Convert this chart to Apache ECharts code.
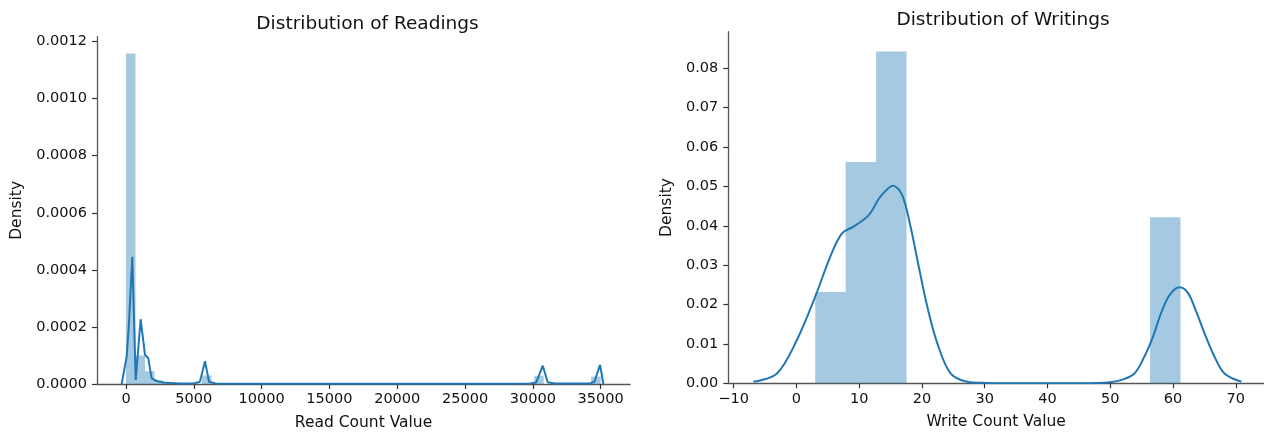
<!DOCTYPE html>
<html>
<head>
<meta charset="utf-8">
<script src="https://cdn.jsdelivr.net/npm/echarts@6/dist/echarts.min.js"></script>
<style>
  html, body { margin: 0; padding: 0; background: #fff; }
  #chart { width: 1264px; height: 433px; }
</style>
</head>
<body>
<div id="chart"></div>
<script>
// ---- Reads: histogram bins (left edge, right edge, density) ----
const readBinLeft    = [0,        700,      1400,     2100,     5600,     30100,    34300];
const readBinRight   = [700,      1400,     2100,     2800,     6300,     30800,    35000];
const readBinDensity = [0.001158, 0.000100, 0.000045, 0.000012, 0.000030, 0.000029, 0.000026];

// ---- Reads: kernel density curve ----
const readKdeX = [-320, -200, 50, 220, 465, 715, 1080, 1400, 1645, 1890, 2260, 2870,
                  4000, 5000, 5450, 5825, 6120, 6600, 10000, 15000, 20000, 25000, 29800,
                  30240, 30730, 31100, 31600, 34200, 34540, 34955, 35200];
const readKdeY = [0, 0.000004, 0.000096, 0.000213, 0.000446, 0.000014, 0.000227, 0.000102,
                  0.000090, 0.000020, 0.0000105, 0.000004, 0.000002, 0.000002, 0.000008,
                  0.000080, 0.000008, 0.000002, 0.000001, 0.000001, 0.000001, 0.000001,
                  0.000002, 0.000005, 0.000064, 0.000006, 0.000002, 0.000002, 0.000008,
                  0.000067, 0];

// ---- Writes: histogram bins ----
const writeBinLeft    = [3.0,    7.85,   12.7,   56.35];
const writeBinRight   = [7.85,   12.7,   17.55,  61.2];
const writeBinDensity = [0.0232, 0.0562, 0.0843, 0.0422];

// ---- Writes: kernel density curve ----
const writeKdeX = [-6.85, -3.11, 0.08, 3.0, 5.4, 7.27, 9.12, 11.52, 13.39, 15.41, 16.85,
                   18.18, 19.5, 20.85, 22.44, 24.57, 27.2, 30, 35, 40, 45, 48, 50, 51.7,
                   53.85, 55.45, 56.8, 58.1, 59.45, 61.04, 62.4, 63.7, 65.03, 66.6, 68.2, 70.9];
const writeKdeY = [0.0004, 0.0025, 0.0110, 0.0220, 0.0322, 0.0381, 0.0398, 0.0427, 0.0474,
                   0.0502, 0.0478, 0.0398, 0.0296, 0.0195, 0.0102, 0.0025, 0.0004, 0.0001,
                   0.00003, 0.00002, 0.00003, 0.0001, 0.0003, 0.0008, 0.0025, 0.0068, 0.0118,
                   0.0178, 0.0224, 0.0244, 0.0229, 0.0182, 0.0127, 0.0068, 0.0025, 0.0004];

// ---- Tick values ----
const readXTicks  = [0, 5000, 10000, 15000, 20000, 25000, 30000, 35000];
const readYTicks  = [0, 0.0002, 0.0004, 0.0006, 0.0008, 0.0010, 0.0012];
const writeXTicks = [-10, 0, 10, 20, 30, 40, 50, 60, 70];
const writeYTicks = [0, 0.01, 0.02, 0.03, 0.04, 0.05, 0.06, 0.07, 0.08];

const FONT = 'DejaVu Sans';
const TXT = '#111';
const BAR = 'rgba(31,119,180,0.4)';
const LINE = '#1f77b4';

function zip(a, b) { return a.map((v, i) => [v, b[i]]); }
function bins(l, r, d) { return l.map((v, i) => [v, r[i], d[i]]); }

function histSeries(idx, data) {
  return {
    type: 'custom',
    xAxisIndex: idx, yAxisIndex: idx,
    data: data,
    encode: { x: [0, 1], y: 2 },
    z: 1,
    renderItem: function (params, api) {
      const top = api.coord([api.value(0), api.value(2)]);
      const bot = api.coord([api.value(1), 0]);
      return {
        type: 'rect',
        shape: { x: top[0], y: top[1], width: bot[0] - top[0], height: bot[1] - top[1] },
        style: { fill: BAR }
      };
    }
  };
}

function lineSeries(idx, data, smooth) {
  return {
    type: 'line',
    xAxisIndex: idx, yAxisIndex: idx,
    data: data,
    smooth: smooth,
    showSymbol: false,
    z: 3,
    lineStyle: { color: LINE, width: 2 },
    itemStyle: { color: LINE }
  };
}

function xAxis(idx, min, max, ticks, name, fmt) {
  return {
    type: 'value', gridIndex: idx, min: min, max: max,
    name: name, nameLocation: 'middle', nameGap: 31,
    nameTextStyle: { fontFamily: FONT, fontSize: 15.5, color: TXT },
    axisLine: { show: true, onZero: false, lineStyle: { color: '#555', width: 1.3 } },
    axisTick: { show: true, length: 5, customValues: ticks, lineStyle: { color: '#333', width: 1.2 } },
    axisLabel: { customValues: ticks, margin: 8, fontFamily: FONT, fontSize: 14.5, color: TXT, formatter: fmt },
    splitLine: { show: false }
  };
}

function yAxis(idx, min, max, ticks, gap, fmt) {
  return {
    type: 'value', gridIndex: idx, min: min, max: max,
    name: 'Density', nameLocation: 'middle', nameGap: gap, nameRotate: 90,
    nameTextStyle: { fontFamily: FONT, fontSize: 15.5, color: TXT },
    axisLine: { show: true, onZero: false, lineStyle: { color: '#555', width: 1.3 } },
    axisTick: { show: true, length: 5, customValues: ticks, lineStyle: { color: '#333', width: 1.2 } },
    axisLabel: { customValues: ticks, margin: 10, fontFamily: FONT, fontSize: 14.5, color: TXT, formatter: fmt },
    splitLine: { show: false }
  };
}

const chart = echarts.init(document.getElementById('chart'), null, { renderer: 'canvas' });

chart.setOption({
  animation: false,
  backgroundColor: '#fff',
  title: [
    { text: 'Distribution of Readings', left: 362.5, top: 10, textAlign: 'center',
      textStyle: { fontFamily: FONT, fontSize: 18.5, fontWeight: 'normal', color: TXT } },
    { text: 'Distribution of Writings', left: 998, top: 6, textAlign: 'center',
      textStyle: { fontFamily: FONT, fontSize: 18.5, fontWeight: 'normal', color: TXT } }
  ],
  grid: [
    { left: 97, top: 36.7, width: 533, height: 347.3, outerBoundsMode: 'none' },
    { left: 728.3, top: 31.7, width: 535.7, height: 351.6, outerBoundsMode: 'none' }
  ],
  xAxis: [
    xAxis(0, -2138, 37163, readXTicks, 'Read Count Value', v => String(v)),
    xAxis(1, -10.85, 74.5, writeXTicks, 'Write Count Value',
          v => (v < 0 ? '\u2212' + Math.abs(v) : String(v)))
  ],
  yAxis: [
    yAxis(0, 0, 0.001217, readYTicks, 72, v => v.toFixed(4)),
    yAxis(1, 0, 0.0893, writeYTicks, 53, v => v.toFixed(2))
  ],
  series: [
    histSeries(0, bins(readBinLeft, readBinRight, readBinDensity)),
    lineSeries(0, zip(readKdeX, readKdeY), false),
    histSeries(1, bins(writeBinLeft, writeBinRight, writeBinDensity)),
    lineSeries(1, zip(writeKdeX, writeKdeY), 0.35)
  ]
});
</script>
</body>
</html>
